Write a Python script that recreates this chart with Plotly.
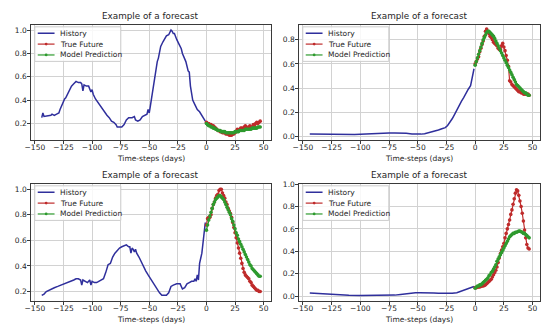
import plotly.graph_objects as go

W, H = 550, 332
OFF = 8  # the page body adds an 8px margin around the figure

# ---------------- data ----------------
future_steps = list(range(48))
x_ticks = [-150, -125, -100, -75, -50, -25, 0, 25, 50]

# Panel 1 (top-left)
hist1_x = [-144, -143, -142, -140, -138, -136, -135, -133, -131, -129, -128, -126, -124, -123, -121, -120,
           -118, -116, -114, -112, -110, -109, -108, -107, -105, -103, -102, -101, -100, -99, -97, -95,
           -93, -91, -89, -87, -85, -83, -81, -79, -78, -74, -72, -70, -68, -65, -63, -62, -60, -58,
           -56, -54, -53, -52, -51, -50, -49, -48, -47, -46, -45, -44, -43, -42, -41, -40, -38, -36,
           -35, -33, -32, -31, -30, -29, -28, -27, -26, -24, -22, -21, -20, -18, -16, -15, -14, -13,
           -12, -10, -8, -6, -4, -2, -1]
hist1_y = [0.25, 0.29, 0.26, 0.265, 0.27, 0.27, 0.28, 0.27, 0.28, 0.29, 0.32, 0.37, 0.41, 0.42, 0.46, 0.49,
           0.52, 0.54, 0.56, 0.55, 0.55, 0.54, 0.48, 0.53, 0.52, 0.52, 0.50, 0.47, 0.49, 0.45, 0.41, 0.38,
           0.35, 0.33, 0.30, 0.27, 0.25, 0.22, 0.21, 0.19, 0.17, 0.17, 0.19, 0.23, 0.25, 0.25, 0.26, 0.23, 0.22, 0.23,
           0.26, 0.27, 0.28, 0.28, 0.32, 0.29, 0.35, 0.42, 0.47, 0.53, 0.62, 0.70, 0.73, 0.76, 0.80, 0.86, 0.90, 0.93,
           0.95, 0.96, 0.99, 1.00, 0.99, 0.97, 0.97, 0.94, 0.92, 0.88, 0.84, 0.80, 0.78, 0.73, 0.65, 0.64, 0.52, 0.45,
           0.40, 0.36, 0.32, 0.30, 0.27, 0.24, 0.22]
true1 = [0.21, 0.20, 0.20, 0.19, 0.19, 0.18, 0.18, 0.17, 0.16, 0.15, 0.14, 0.14, 0.13, 0.13, 0.12, 0.12,
         0.12, 0.11, 0.11, 0.11, 0.10, 0.10, 0.10, 0.11, 0.11, 0.12, 0.13, 0.15, 0.14, 0.15, 0.16, 0.16,
         0.15, 0.17, 0.18, 0.17, 0.16, 0.17, 0.18, 0.17, 0.17, 0.19, 0.18, 0.20, 0.21, 0.20, 0.21, 0.22]
pred1 = [0.20, 0.19, 0.18, 0.18, 0.17, 0.17, 0.16, 0.16, 0.15, 0.15, 0.14, 0.14, 0.14, 0.13, 0.13, 0.13,
         0.13, 0.12, 0.12, 0.12, 0.12, 0.12, 0.12, 0.12, 0.12, 0.13, 0.13, 0.13, 0.13, 0.14, 0.14, 0.14,
         0.14, 0.14, 0.15, 0.15, 0.15, 0.15, 0.15, 0.15, 0.16, 0.16, 0.16, 0.16, 0.16, 0.17, 0.17, 0.17]
y_ticks1 = [0.2, 0.4, 0.6, 0.8, 1.0]

# Panel 2 (top-right)
hist2_x = [-144, -140, -135, -130, -125, -120, -115, -110, -105, -100, -95, -90, -85, -80, -75, -70, -65,
           -60, -55, -50, -47, -44, -40, -36, -32, -29, -26, -24, -22, -20, -18, -16, -14, -12, -10, -8,
           -6, -4, -3, -2, -1]
hist2_y = [0.020, 0.019, 0.017, 0.015, 0.013, 0.012, 0.012, 0.013, 0.014, 0.016, 0.019, 0.022, 0.025,
           0.027, 0.027, 0.027, 0.027, 0.025, 0.020, 0.017, 0.018, 0.022, 0.030, 0.040, 0.052, 0.062,
           0.072, 0.090, 0.115, 0.145, 0.18, 0.22, 0.26, 0.29, 0.32, 0.36, 0.39, 0.42, 0.47, 0.52, 0.56]
true2 = [0.60, 0.62, 0.64, 0.66, 0.70, 0.73, 0.76, 0.79, 0.83, 0.87, 0.89, 0.87, 0.85, 0.83, 0.82, 0.80,
         0.78, 0.77, 0.76, 0.75, 0.73, 0.72, 0.72, 0.75, 0.77, 0.74, 0.71, 0.67, 0.63, 0.58, 0.46, 0.45,
         0.43, 0.42, 0.41, 0.40, 0.39, 0.38, 0.37, 0.37, 0.36, 0.36, 0.35, 0.35, 0.35, 0.35, 0.35, 0.34]
pred2 = [0.59, 0.62, 0.65, 0.68, 0.71, 0.74, 0.77, 0.80, 0.82, 0.84, 0.86, 0.87, 0.87, 0.86, 0.85, 0.84,
         0.83, 0.81, 0.79, 0.77, 0.75, 0.73, 0.71, 0.69, 0.67, 0.65, 0.63, 0.61, 0.59, 0.57, 0.55, 0.53,
         0.51, 0.49, 0.47, 0.45, 0.43, 0.42, 0.41, 0.40, 0.39, 0.38, 0.37, 0.36, 0.36, 0.35, 0.34, 0.34]
y_ticks2 = [0.0, 0.2, 0.4, 0.6, 0.8]

# Panel 3 (bottom-left)
hist3_x = [-144, -142, -140, -138, -136, -133, -130, -127, -124, -121, -118, -116, -114, -112, -110, -109,
           -108, -106, -104, -102, -101, -100, -98, -96, -94, -92, -90, -88, -86, -84, -82, -80, -78, -76,
           -74, -72, -70, -68, -67, -66, -65, -64, -63, -62, -61, -59, -57, -55, -53, -51, -49, -47, -45,
           -43, -41, -39, -35, -33, -31, -29, -26, -23, -21, -19, -17, -15, -13, -11, -10, -9, -8, -7, -6,
           -5, -4, -3, -2, -1]
hist3_y = [0.17, 0.18, 0.20, 0.21, 0.22, 0.23, 0.24, 0.25, 0.26, 0.27, 0.28, 0.29, 0.30, 0.30, 0.29, 0.25,
           0.29, 0.28, 0.27, 0.29, 0.25, 0.28, 0.27, 0.27, 0.28, 0.29, 0.30, 0.35, 0.41, 0.42, 0.47, 0.50, 0.52, 0.54,
           0.55, 0.56, 0.565, 0.55, 0.55, 0.50, 0.54, 0.53, 0.51, 0.53, 0.50, 0.47, 0.43, 0.40, 0.36, 0.33, 0.30, 0.27, 0.25,
           0.21, 0.19, 0.17, 0.17, 0.19, 0.24, 0.25, 0.26, 0.26, 0.22, 0.23, 0.26, 0.27, 0.28, 0.28, 0.30, 0.28, 0.33, 0.29, 0.42,
           0.46, 0.50, 0.58, 0.66, 0.74]
true3 = [0.72, 0.77, 0.78, 0.78, 0.80, 0.85, 0.88, 0.90, 0.93, 0.95, 0.96, 0.99, 1.00, 1.00, 0.97, 0.95,
         0.93, 0.90, 0.88, 0.85, 0.83, 0.81, 0.78, 0.74, 0.70, 0.66, 0.62, 0.58, 0.54, 0.50, 0.46, 0.42,
         0.38, 0.35, 0.33, 0.32, 0.31, 0.30, 0.28, 0.27, 0.25, 0.24, 0.23, 0.22, 0.21, 0.21, 0.20, 0.20]
pred3 = [0.68, 0.72, 0.76, 0.79, 0.82, 0.85, 0.88, 0.90, 0.92, 0.93, 0.94, 0.95, 0.95, 0.94, 0.93, 0.92,
         0.90, 0.88, 0.86, 0.84, 0.82, 0.80, 0.77, 0.75, 0.72, 0.69, 0.66, 0.64, 0.61, 0.59, 0.57, 0.55,
         0.53, 0.51, 0.49, 0.47, 0.45, 0.43, 0.41, 0.40, 0.38, 0.37, 0.36, 0.35, 0.34, 0.33, 0.32, 0.32]
y_ticks3 = [0.2, 0.4, 0.6, 0.8, 1.0]

# Panel 4 (bottom-right)
hist4_x = [-144, -140, -137, -134, -130, -125, -120, -110, -100, -90, -80, -75, -70, -65, -60, -56, -52,
           -48, -44, -40, -36, -32, -28, -24, -20, -16, -13, -10, -7, -4, -2, -1]
hist4_y = [0.026, 0.023, 0.025, 0.022, 0.016, 0.012, 0.009, 0.006, 0.004, 0.004, 0.004, 0.005, 0.008,
           0.013, 0.020, 0.026, 0.029, 0.030, 0.031, 0.030, 0.027, 0.024, 0.022, 0.022, 0.024, 0.030,
           0.040, 0.052, 0.062, 0.072, 0.080, 0.085]
true4 = [0.075, 0.075, 0.078, 0.08, 0.08, 0.085, 0.09, 0.09, 0.095, 0.10, 0.11, 0.12, 0.13, 0.14, 0.15, 0.17,
         0.19, 0.21, 0.23, 0.26, 0.30, 0.34, 0.38, 0.41, 0.44, 0.47, 0.52, 0.56, 0.60, 0.64, 0.68, 0.73,
         0.77, 0.82, 0.87, 0.92, 0.95, 0.94, 0.90, 0.85, 0.80, 0.74, 0.67, 0.59, 0.52, 0.46, 0.43, 0.42]
pred4 = [0.07, 0.08, 0.09, 0.09, 0.10, 0.10, 0.11, 0.12, 0.13, 0.14, 0.15, 0.16, 0.18, 0.19, 0.21, 0.22,
         0.24, 0.26, 0.28, 0.31, 0.33, 0.35, 0.37, 0.39, 0.41, 0.43, 0.45, 0.47, 0.49, 0.51, 0.53, 0.54,
         0.55, 0.56, 0.56, 0.57, 0.57, 0.575, 0.58, 0.58, 0.575, 0.57, 0.56, 0.56, 0.55, 0.54, 0.53, 0.52]
y_ticks4 = [0.0, 0.2, 0.4, 0.6, 0.8, 1.0]

title_text = "Example of a forecast"
xlabel_text = "Time-steps (days)"
legend_labels = ["History", "True Future", "Model Prediction"]

# ---------------- style ----------------
C_HIST = "#2f2f9c"
C_TRUE = "#bf2b2b"
C_PRED = "#2e9a2e"
FONT = "DejaVu Sans"
TICK_FS = 7.5
TITLE_FS = 8.8
GRID = "#d2d2d2"
FRAME = "#3a3a3a"
TEXT = "#262626"

panels = [
    dict(hist_x=hist1_x, hist_y=hist1_y, true=true1, pred=pred1, yt=y_ticks1,
         px=(25, 268), py=(21, 138), yr=[0.055, 1.045]),
    dict(hist_x=hist2_x, hist_y=hist2_y, true=true2, pred=pred2, yt=y_ticks2,
         px=(296, 540), py=(21, 138), yr=[-0.034, 0.924]),
    dict(hist_x=hist3_x, hist_y=hist3_y, true=true3, pred=pred3, yt=y_ticks3,
         px=(25, 268), py=(182, 301), yr=[0.123, 1.042]),
    dict(hist_x=hist4_x, hist_y=hist4_y, true=true4, pred=pred4, yt=y_ticks4,
         px=(296, 540), py=(182, 301), yr=[-0.048, 1.003]),
]

FW, FH = W - OFF, H - OFF


def fx(p):
    return (p - OFF) / FW


def fy(p):
    return 1 - (p - OFF) / FH


fig = go.Figure()
layout = dict(
    width=FW, height=FH, margin=dict(l=0, r=0, t=0, b=0),
    paper_bgcolor="white", plot_bgcolor="white", showlegend=False,
    font=dict(family=FONT, size=TICK_FS, color=TEXT),
)
shapes = []
annotations = []

for i, p in enumerate(panels):
    n = "" if i == 0 else str(i + 1)
    xa, ya = "x" + n, "y" + n
    fig.add_trace(go.Scatter(x=p["hist_x"], y=p["hist_y"], mode="lines", name=legend_labels[0],
                             line=dict(color=C_HIST, width=1.5), xaxis=xa, yaxis=ya))
    fig.add_trace(go.Scatter(x=future_steps, y=p["true"], mode="lines+markers", name=legend_labels[1],
                             line=dict(color=C_TRUE, width=1.2), marker=dict(color=C_TRUE, size=3.6),
                             xaxis=xa, yaxis=ya))
    fig.add_trace(go.Scatter(x=future_steps, y=p["pred"], mode="lines+markers", name=legend_labels[2],
                             line=dict(color=C_PRED, width=1.2), marker=dict(color=C_PRED, size=3.6),
                             xaxis=xa, yaxis=ya))
    x0, x1 = p["px"]
    y0, y1 = p["py"]
    common = dict(showline=True, mirror=True, linecolor=FRAME, linewidth=1, ticks="outside",
                  ticklen=2.5, tickwidth=0.8, tickcolor=FRAME, showgrid=True, gridcolor=GRID,
                  gridwidth=1, zeroline=False, tickfont=dict(family=FONT, size=TICK_FS, color=TEXT))
    layout["xaxis" + n] = dict(domain=[fx(x0), fx(x1)], anchor=ya, range=[-153.55, 56.55],
                               tickvals=x_ticks, ticklabelstandoff=-3, **common)
    layout["yaxis" + n] = dict(domain=[fy(y1), fy(y0)], anchor=xa, range=p["yr"],
                               tickvals=p["yt"], tickformat=".1f", ticklabelstandoff=-1, **common)
    # title and x label
    annotations.append(dict(text=title_text, xref="paper", yref="paper", x=fx((x0 + x1) / 2),
                            y=fy(y0 - 9), xanchor="center", yanchor="middle", showarrow=False,
                            font=dict(family=FONT, size=TITLE_FS, color=TEXT)))
    annotations.append(dict(text=xlabel_text, xref="paper", yref="paper", x=fx((x0 + x1) / 2),
                            y=fy(y1 + 18), xanchor="center", yanchor="middle", showarrow=False,
                            font=dict(family=FONT, size=TICK_FS, color=TEXT)))
    # legend box (upper left, inside axes)
    lx0 = x0 + 4
    ly0 = y0 + 2
    bw = 87
    shapes.append(dict(type="rect", xref="paper", yref="paper", x0=fx(lx0), x1=fx(lx0 + bw),
                       y0=fy(ly0), y1=fy(ly0 + 35), line=dict(color="#cccccc", width=1),
                       fillcolor="rgba(255,255,255,0.85)", layer="above"))
    colors = [C_HIST, C_TRUE, C_PRED]
    for k, lab in enumerate(legend_labels):
        ry = ly0 + 6.5 + k * 11
        shapes.append(dict(type="line", xref="paper", yref="paper", x0=fx(lx0 + 3), x1=fx(lx0 + 20),
                           y0=fy(ry), y1=fy(ry), line=dict(color=colors[k], width=1.5 if k == 0 else 1.2),
                           layer="above"))
        if k > 0:
            cx = lx0 + 11.5
            shapes.append(dict(type="circle", xref="paper", yref="paper", x0=fx(cx - 1.4), x1=fx(cx + 1.4),
                               y0=fy(ry - 1.4), y1=fy(ry + 1.4), fillcolor=colors[k],
                               line=dict(color=colors[k], width=0), layer="above"))
        annotations.append(dict(text=lab, xref="paper", yref="paper", x=fx(lx0 + 23.5), y=fy(ry),
                                xanchor="left", yanchor="middle", showarrow=False,
                                font=dict(family=FONT, size=TICK_FS, color=TEXT)))

layout["shapes"] = shapes
layout["annotations"] = annotations
fig.update_layout(**layout)
fig.write_html("out.html")
